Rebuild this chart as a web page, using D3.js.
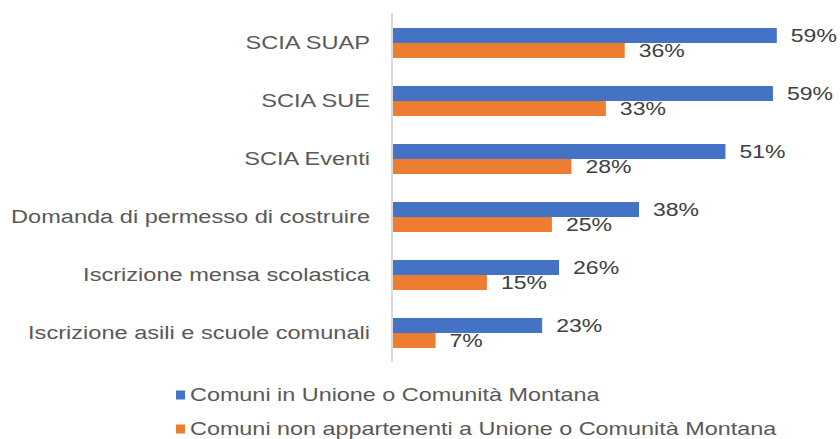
<!DOCTYPE html>
<html>
<head>
<meta charset="utf-8">
<script src="https://cdn.jsdelivr.net/npm/d3@7"></script>
<style>
  html, body { margin: 0; padding: 0; background: #fff; }
  svg { display: block; }
  text { font-family: "Liberation Sans", Arial, sans-serif; }
</style>
</head>
<body>
<svg id="chart" width="840" height="439"></svg>
<script>
const categories = [
  "SCIA SUAP",
  "SCIA SUE",
  "SCIA Eventi",
  "Domanda di permesso di costruire",
  "Iscrizione mensa scolastica",
  "Iscrizione asili e scuole comunali"
];
const seriesNames = [
  "Comuni in Unione o Comunità Montana",
  "Comuni non appartenenti a Unione o Comunità Montana"
];
const unioneValues = [59.2, 58.6, 51.3, 38.0, 25.7, 23.1];
const nonUnioneValues = [35.8, 32.9, 27.6, 24.6, 14.6, 6.7];
const colors = ["#4472C4", "#ED7D31"];

const svg = d3.select("#chart");
const sx = 1.31; // horizontal stretch of the original text

const x = d3.scaleLinear().domain([0, 60]).range([392, 782]);
const y = d3.scaleBand().domain(categories).range([14, 362])
  .paddingInner(0.483).paddingOuter(0.2415);
const sub = d3.scaleBand().domain([0, 1]).range([0, y.bandwidth()]);

const series = [unioneValues, nonUnioneValues];

// axis line
svg.append("line")
  .attr("x1", x(0)).attr("x2", x(0))
  .attr("y1", y.range()[0] - 1).attr("y2", y.range()[1])
  .attr("stroke", "#d9d9d9").attr("stroke-width", 2);

// bars
series.forEach((vals, si) => {
  const g = svg.append("g");
  g.selectAll("rect").data(categories).join("rect")
    .attr("x", x(0) + 1)
    .attr("y", (c) => y(c) + sub(si))
    .attr("width", (c, i) => x(vals[i]) - x(0) - 1)
    .attr("height", sub.bandwidth())
    .attr("fill", colors[si]);
  g.selectAll("text").data(categories).join("text")
    .attr("transform", (c, i) => `translate(${x(vals[i]) + 14},${y(c) + sub(si) + sub.bandwidth() / 2}) scale(1.28,1)`)
    .attr("dy", "0.36em")
    .attr("font-size", 18)
    .attr("fill", "#404040")
    .text((c, i) => Math.round(vals[i]) + "%");
});

// category labels
svg.append("g").selectAll("text").data(categories).join("text")
  .attr("transform", (c) => `translate(370,${y(c) + y.bandwidth() / 2}) scale(${sx},1)`)
  .attr("dy", "0.36em")
  .attr("text-anchor", "end")
  .attr("font-size", 18)
  .attr("fill", "#595959")
  .text((c) => c);

// legend
const legend = svg.append("g");
const legY = [395, 429];
seriesNames.forEach((name, i) => {
  legend.append("rect")
    .attr("x", 176).attr("y", legY[i] - 4.5)
    .attr("width", 9).attr("height", 9)
    .attr("fill", colors[i]);
  legend.append("text")
    .attr("transform", `translate(190,${legY[i]}) scale(1.3,1)`)
    .attr("dy", "0.36em")
    .attr("font-size", 18)
    .attr("fill", "#595959")
    .text(name);
});
</script>
</body>
</html>
